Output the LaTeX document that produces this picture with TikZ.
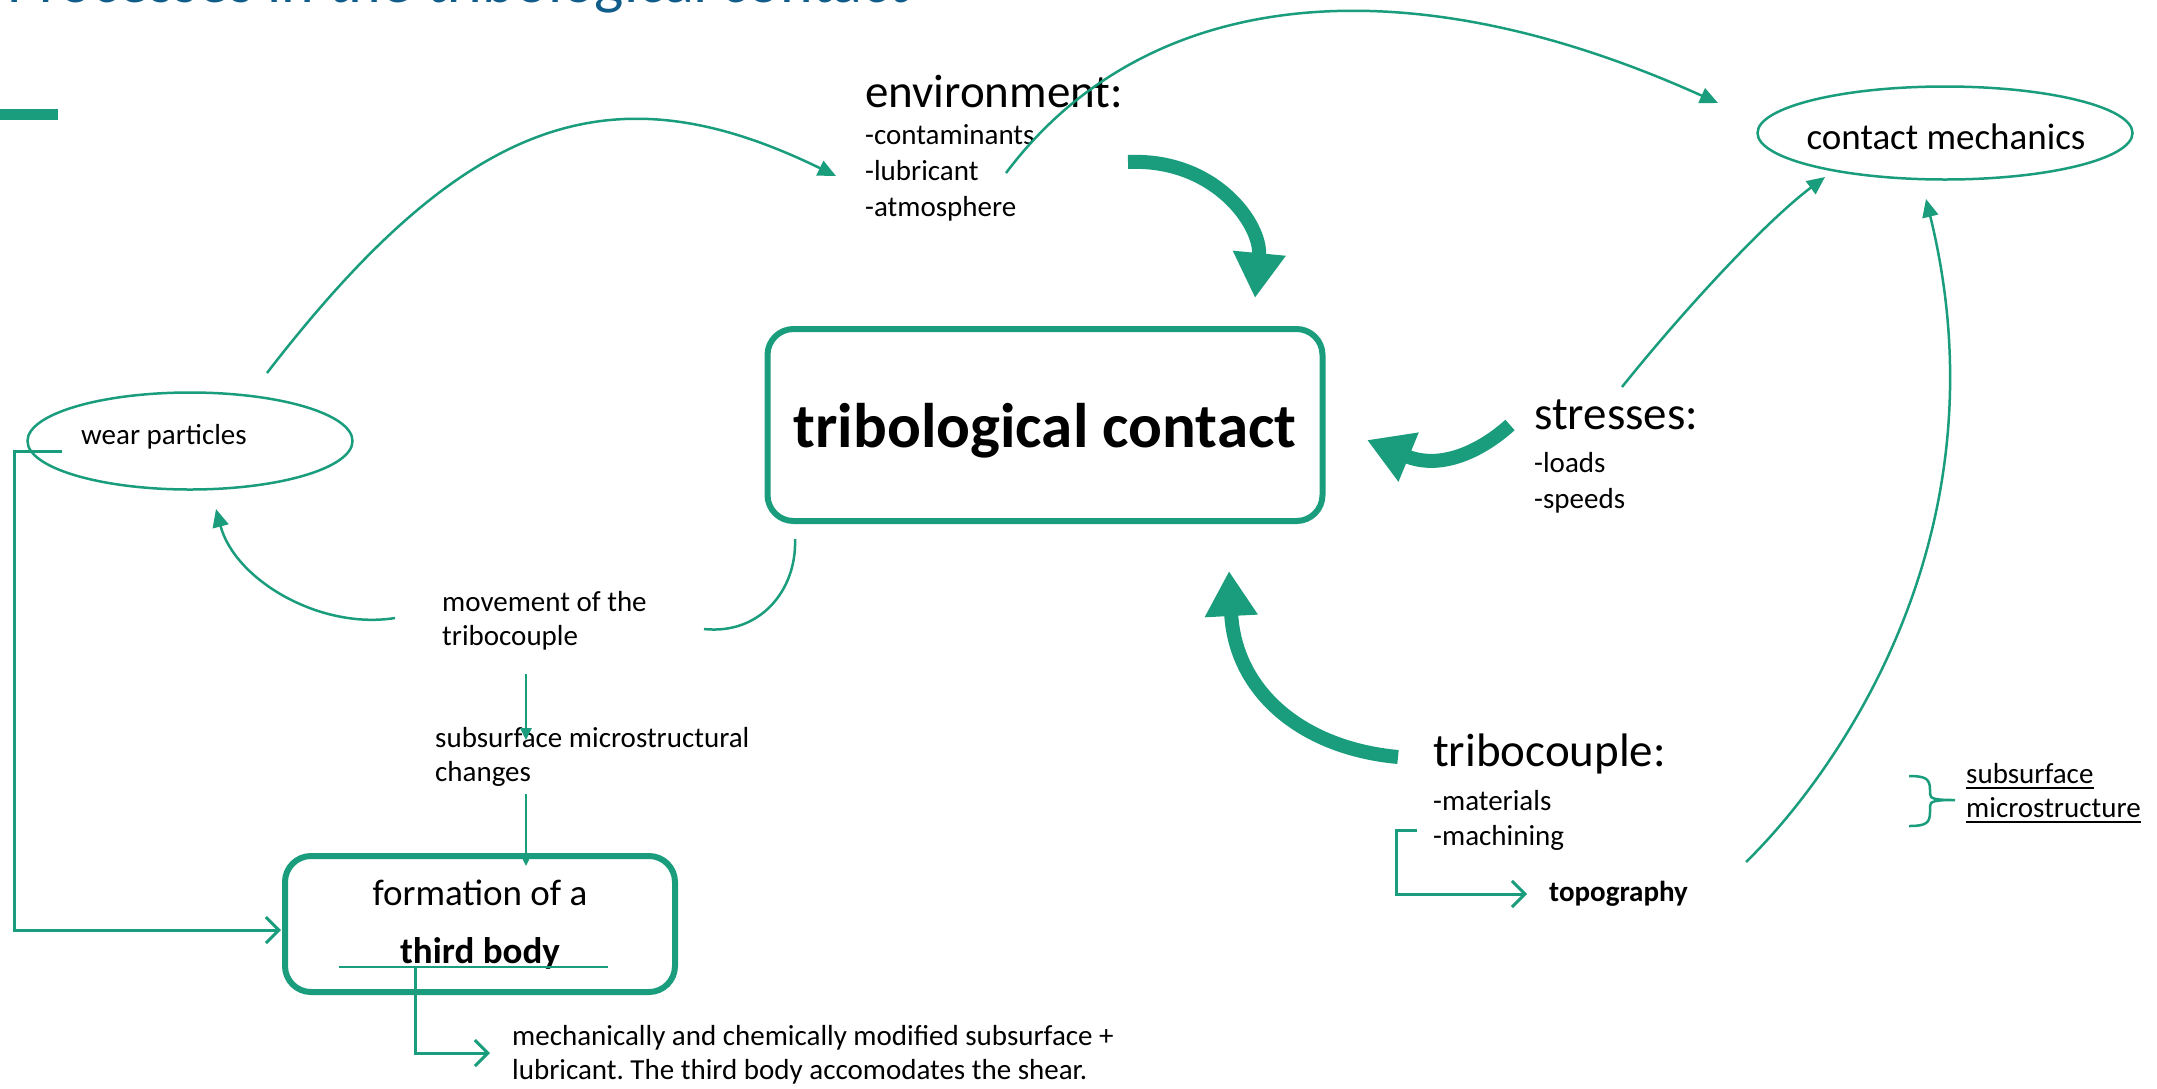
\documentclass[tikz,border=0pt]{standalone}
\usepackage{fontspec}
\setmainfont{Carlito}
\usetikzlibrary{arrows.meta,shapes.geometric}
\definecolor{tgreen}{RGB}{26,157,125}
\definecolor{tblue}{RGB}{16,92,138}
\frenchspacing
\begin{document}
\begin{tikzpicture}[x=1pt,y=-1pt,
  sz29/.style={font=\fontsize{29}{35}\selectfont},
  sz37/.style={font=\fontsize{37}{44}\selectfont},
  sz47/.style={font=\fontsize{47}{56}\selectfont},
  lbl/.style={inner sep=0pt, anchor=base west},
  thinline/.style={draw=tgreen, line width=2.5pt},
  thinarrow/.style={thinline, -{Triangle[length=18pt,width=16pt]}},
  smallarrow/.style={thinline, -{Triangle[length=12pt,width=11pt]}},
  openarrow/.style={draw=tgreen, line width=3pt, -{Straight Barb[length=13pt,width=26pt]}},
  bigarrow/.style={draw=tgreen, line width=14pt, -{Triangle[length=45pt,width=50pt]}},
  roundbox/.style={draw=tgreen, line width=6pt, rounded corners=26pt, inner sep=0pt},
  ellnode/.style={draw=tgreen, line width=2.5pt, ellipse, inner sep=0pt},
]
\useasboundingbox (0,0) rectangle (2157,1088);
\clip (0,0) rectangle (2157,1088);
\fill[white] (0,0) rectangle (2157,1088);

% title (cut off at the top, as in the reference) and bar
\node[lbl, text=tblue, font=\fontsize{62}{70}\selectfont] (title) at (7,2) {Processes in the tribological contact};
\node[fill=tgreen, inner sep=0pt, minimum width=58pt, minimum height=11pt, anchor=north west] (bar) at (0,109) {};

% main box
\node[roundbox, minimum width=555pt, minimum height=192pt, text height=44pt, text depth=0pt,
      font=\bfseries\fontsize{63}{70}\selectfont] (tc) at (1045,425) {tribological contact};

% ellipses
\node[ellnode, minimum width=375pt, minimum height=93pt] (cm) at (1945,133) {};
\node[inner sep=0pt, anchor=base, sz37] (cmt) at (1946,149) {contact mechanics};
\node[ellnode, minimum width=325pt, minimum height=97pt] (wp) at (190,441) {};
\node[lbl, sz29] (wpt) at (81,444) {wear particles};

% environment
\node[lbl, sz47] (env) at (865,107) {environment:};
\node[lbl, sz29] (env1) at (865,144) {-contaminants};
\node[lbl, sz29] (env2) at (865,180) {-lubricant};
\node[lbl, sz29] (env3) at (865,216) {-atmosphere};

% stresses
\node[lbl, sz47] (st) at (1534,429) {stresses:};
\node[lbl, sz29] (st1) at (1534,472) {-loads};
\node[lbl, sz29] (st2) at (1534,508) {-speeds};

% tribocouple
\node[lbl, sz47] (tb) at (1433,766) {tribocouple:};
\node[lbl, sz29] (tb1) at (1433,810) {-materials};
\node[lbl, sz29] (tb2) at (1433,845) {-machining};
\node[lbl, font=\bfseries\fontsize{29}{35}\selectfont] (topo) at (1549,901) {topography};

% subsurface microstructure
\node[lbl, sz29] (ss1) at (1966,783) {subsurface};
\node[lbl, sz29] (ss2) at (1966,817) {microstructure};
\draw[line width=2pt] ([yshift=-5pt]ss1.base west) -- ([yshift=-5pt]ss1.base east);
\draw[line width=2pt] ([yshift=-5pt]ss2.base west) -- ([yshift=-5pt]ss2.base east);
\draw[thinline] (1909,776) .. controls (1926,776) and (1930,779) .. (1930,790) -- (1930,794)
  .. controls (1930,799) and (1936,800) .. (1955,800)
  .. controls (1936,800) and (1930,801) .. (1930,806) -- (1930,812)
  .. controls (1930,823) and (1926,826) .. (1909,826);

% movement / subsurface changes
\node[lbl, sz29] (mv1) at (442,611) {movement of the};
\node[lbl, sz29] (mv2) at (442,645) {tribocouple};
\node[lbl, sz29] (sm1) at (435,747) {subsurface microstructural};
\node[lbl, sz29] (sm2) at (435,781) {changes};

% third body box
\node[roundbox, minimum width=390pt, minimum height=136pt] (fb) at (480,924) {};
\node[inner sep=0pt, anchor=base, sz37] (fb1) at (480,905) {formation of a};
\node[inner sep=0pt, anchor=base, font=\bfseries\fontsize{37}{44}\selectfont] (fb2) at (480,963) {third body};
\node[lbl, sz29] (mc1) at (512,1045) {mechanically and chemically modified subsurface +};
\node[lbl, sz29] (mc2) at (512,1079) {lubricant. The third body accomodates the shear.};

% coordinates for connector ends
\coordinate (a1) at (267,373);  \coordinate (a2) at (836,176);
\coordinate (b1) at (1006,173); \coordinate (b2) at (1718,103);
\coordinate (c1) at (1622,387); \coordinate (c2) at (1825,177);
\coordinate (d1) at (1746,862); \coordinate (d2) at (1926,199);
\coordinate (e1) at (395,618);  \coordinate (e2) at (216,509);
\coordinate (f1) at (795,539);  \coordinate (f2) at (704,629);
\coordinate (g1) at (526,674);  \coordinate (g2) at (526,740);
\coordinate (h1) at (526,794);  \coordinate (h2) at (526,866);
\coordinate (T1) at (1128,162); \coordinate (T2) at (1255,298);
\coordinate (S1) at (1510,425); \coordinate (S2) at (1367,440);
\coordinate (R1) at (1398,757); \coordinate (R2) at (1229,571);
\coordinate (wpA) at (62,451);  \coordinate (wpB) at (14,451);
\coordinate (wpC) at (14,930);  \coordinate (wpD) at (281,930);
\coordinate (tbA) at (1417,830); \coordinate (tbB) at (1396,830);
\coordinate (tbC) at (1396,894); \coordinate (tbD) at (1527,894);
\coordinate (tdL) at (339,967); \coordinate (tdR) at (608,967);
\coordinate (tdA) at (415,967); \coordinate (tdB) at (415,1053); \coordinate (tdC) at (490,1053);

% thin curved arrows
\draw[thinarrow] (a1) .. controls (468,112) and (615,68) .. (a2);
\draw[thinarrow] (b1) .. controls (1144,-11) and (1399,-41) .. (b2);
\draw[thinarrow] (c1) .. controls (1682,312) and (1765,222) .. (c2);
\draw[thinarrow] (d1) .. controls (1830,780) and (2010,540) .. (d2);
\draw[thinarrow] (e1) .. controls (320,630) and (235,580) .. (e2);
\draw[thinline] (f1) .. controls (797,590) and (760,635) .. (f2);
\draw[smallarrow] (g1) -- (g2);
\draw[smallarrow] (h1) -- (h2);

% thick arrows
\draw[bigarrow] (T1) .. controls (1215,158) and (1262,225) .. (T2);
\draw[bigarrow] (S1) .. controls (1480,452) and (1440,470) .. (S2);
\draw[bigarrow] (R1) .. controls (1300,748) and (1235,690) .. (R2);

% elbow connectors
\draw[openarrow] (wpA) -- (wpB) -- (wpC) -- (wpD);
\draw[openarrow] (tbA) -- (tbB) -- (tbC) -- (tbD);
\draw[thinline] (tdL) -- (tdR);
\draw[openarrow] (tdA) -- (tdB) -- (tdC);
\end{tikzpicture}
\end{document}
